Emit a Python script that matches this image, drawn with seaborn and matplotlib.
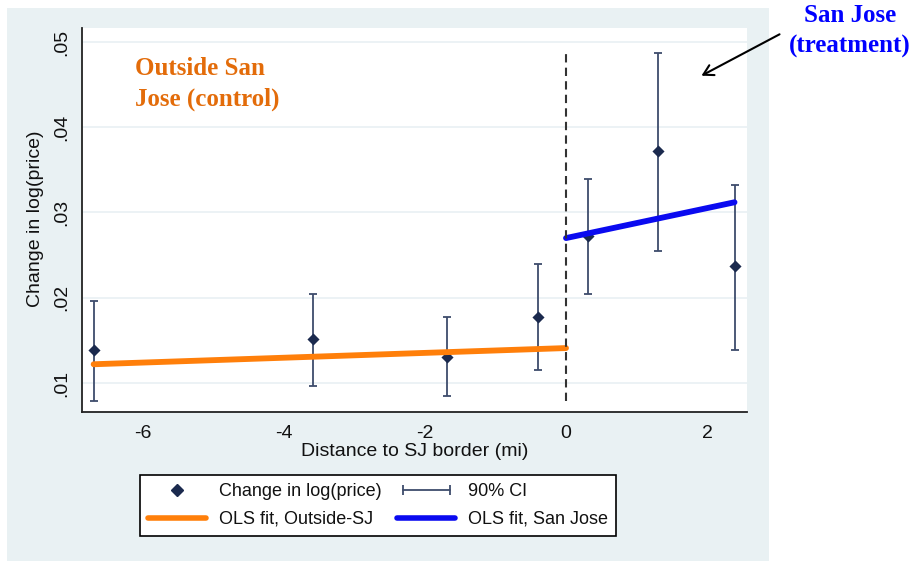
import matplotlib
matplotlib.use("Agg")
import matplotlib.pyplot as plt
import seaborn as sns
import numpy as np
import pandas as pd
from matplotlib.lines import Line2D
from matplotlib.legend_handler import HandlerLine2D
from matplotlib.patches import Rectangle

# ---------------- data ----------------
distance = [-6.70, -3.59, -1.69, -0.40, 0.31, 1.30, 2.39]
change = [0.0139, 0.0152, 0.0131, 0.0178, 0.0273, 0.0372, 0.0237]
ci_low = [0.0079, 0.0096, 0.0085, 0.0115, 0.0204, 0.0255, 0.0139]
ci_high = [0.0196, 0.0204, 0.0177, 0.0240, 0.0339, 0.0487, 0.0332]
fit_outside_x = [-6.70, 0.0]
fit_outside_y = [0.0122, 0.0141]
fit_sj_x = [0.0, 2.39]
fit_sj_y = [0.0270, 0.0312]
x_ticks = [-6, -4, -2, 0, 2]
y_ticks = [0.01, 0.02, 0.03, 0.04, 0.05]
y_tick_labels = [".01", ".02", ".03", ".04", ".05"]

# ---------------- style ----------------
sns.set_style("white")
plt.rcParams['font.family'] = ['Liberation Sans', 'DejaVu Sans']

W, H = 917, 561
fig = plt.figure(figsize=(W / 100, H / 100), dpi=100)
fig.patch.set_facecolor("white")

bg = "#E9F1F3"
fig.patches.append(Rectangle((7 / W, 0), 762 / W, (H - 8) / H,
                             transform=fig.transFigure, facecolor=bg,
                             edgecolor="none", zorder=-10))

ax = fig.add_axes([82 / W, (H - 412) / H, (747 - 82) / W, (412 - 28) / H])
ax.set_zorder(1)
ax.set_facecolor("white")

navy = "#1B2A4E"
ci_col = "#3E4C6C"
orange = "#FF7F0A"
blue = "#0A0AF0"

df = pd.DataFrame({"distance": distance, "change": change,
                   "lo": ci_low, "hi": ci_high})

# grid
for yt in y_ticks:
    ax.axhline(yt, color="#EAF1F4", lw=1.3, zorder=0)

# CI bars
ax.errorbar(df["distance"], df["change"],
            yerr=[df["change"] - df["lo"], df["hi"] - df["change"]],
            fmt="none", ecolor=ci_col, elinewidth=1.3, capsize=3.2,
            capthick=1.3, zorder=2)

sns.scatterplot(data=df, x="distance", y="change", marker="D", s=38,
                color=navy, edgecolor=navy, linewidth=0, ax=ax, zorder=3)

fo = pd.DataFrame({"x": fit_outside_x, "y": fit_outside_y})
fs = pd.DataFrame({"x": fit_sj_x, "y": fit_sj_y})
sns.lineplot(data=fo, x="x", y="y", color=orange, lw=4.2, ax=ax, zorder=4)
sns.lineplot(data=fs, x="x", y="y", color=blue, lw=4.2, ax=ax, zorder=4)

ax.vlines(0, min(ci_low), max(ci_high), colors="#333333", lw=1.5,
          linestyles=(0, (4, 2.5)), zorder=5)

ax.set_xlim(-6.865, 2.567)
ax.set_ylim(0.0066, 0.05164)
ax.set_xticks(x_ticks)
ax.set_xticklabels([str(t) for t in x_ticks])
ax.set_yticks(y_ticks)
ax.set_yticklabels(y_tick_labels, rotation=90, va="center")
ax.tick_params(axis="both", direction="out", length=5.5, width=1.2,
               color="#222222", labelsize=14, labelcolor="#111111", pad=3)
ax.tick_params(axis="x", pad=3.5)
for s in ["top", "right"]:
    ax.spines[s].set_visible(False)
for s in ["left", "bottom"]:
    ax.spines[s].set_color("#222222")
    ax.spines[s].set_linewidth(1.3)
ax.set_xlabel("")
ax.set_ylabel("")

fig.text(415 / W, 1 - 452 / H, "Distance to SJ border (mi)", ha="center",
         va="center", fontsize=14, color="#111111")
fig.text(36 / W, 1 - 219 / H, "Change in log(price)", ha="center",
         va="center", rotation=90, fontsize=14, color="#111111")

# annotations
fig.text(135 / W, 1 - 84 / H, "Outside San\nJose (control)", ha="left",
         va="center", fontsize=18, fontweight="bold", color="#E36C0A",
         family="Liberation Serif", linespacing=1.45)
fig.text(850 / W, 1 - 31 / H, "San Jose\n(treatment)", ha="center",
         va="center", fontsize=18, fontweight="bold", color="#0000FF",
         family="Liberation Serif", linespacing=1.45, multialignment="center")
arrow = matplotlib.patches.FancyArrowPatch(
    (782 / W, 1 - 33 / H), (699 / W, 1 - 77 / H), transform=fig.transFigure,
    arrowstyle="->,head_length=7,head_width=4", color="black", lw=1.5,
    zorder=20)
fig.add_artist(arrow)

# legend
h_pt = Line2D([], [], marker="D", ms=6, color=navy, ls="none")
h_ci = Line2D([], [], marker="|", ms=7, mew=1.3, color=ci_col, lw=1.3)
h_or = Line2D([], [], color=orange, lw=4)
h_bl = Line2D([], [], color=blue, lw=4)
leg = fig.legend([h_pt, h_or, h_ci, h_bl],
                 ["Change in log(price)", "OLS fit, Outside-SJ", "90% CI",
                  "OLS fit, San Jose"],
                 handler_map={h_ci: HandlerLine2D(numpoints=2)},
                 ncol=2, loc="center", bbox_to_anchor=(378 / W, 1 - 505.5 / H),
                 fontsize=13, frameon=True, fancybox=False, framealpha=1,
                 edgecolor="black", handlelength=3.2, handletextpad=0.7,
                 columnspacing=0.9, labelspacing=0.6, borderpad=0.45,
                 borderaxespad=0)
leg.get_frame().set_linewidth(1.2)
for t in leg.get_texts():
    t.set_color("#111111")

fig.savefig("out.png", dpi=100)
